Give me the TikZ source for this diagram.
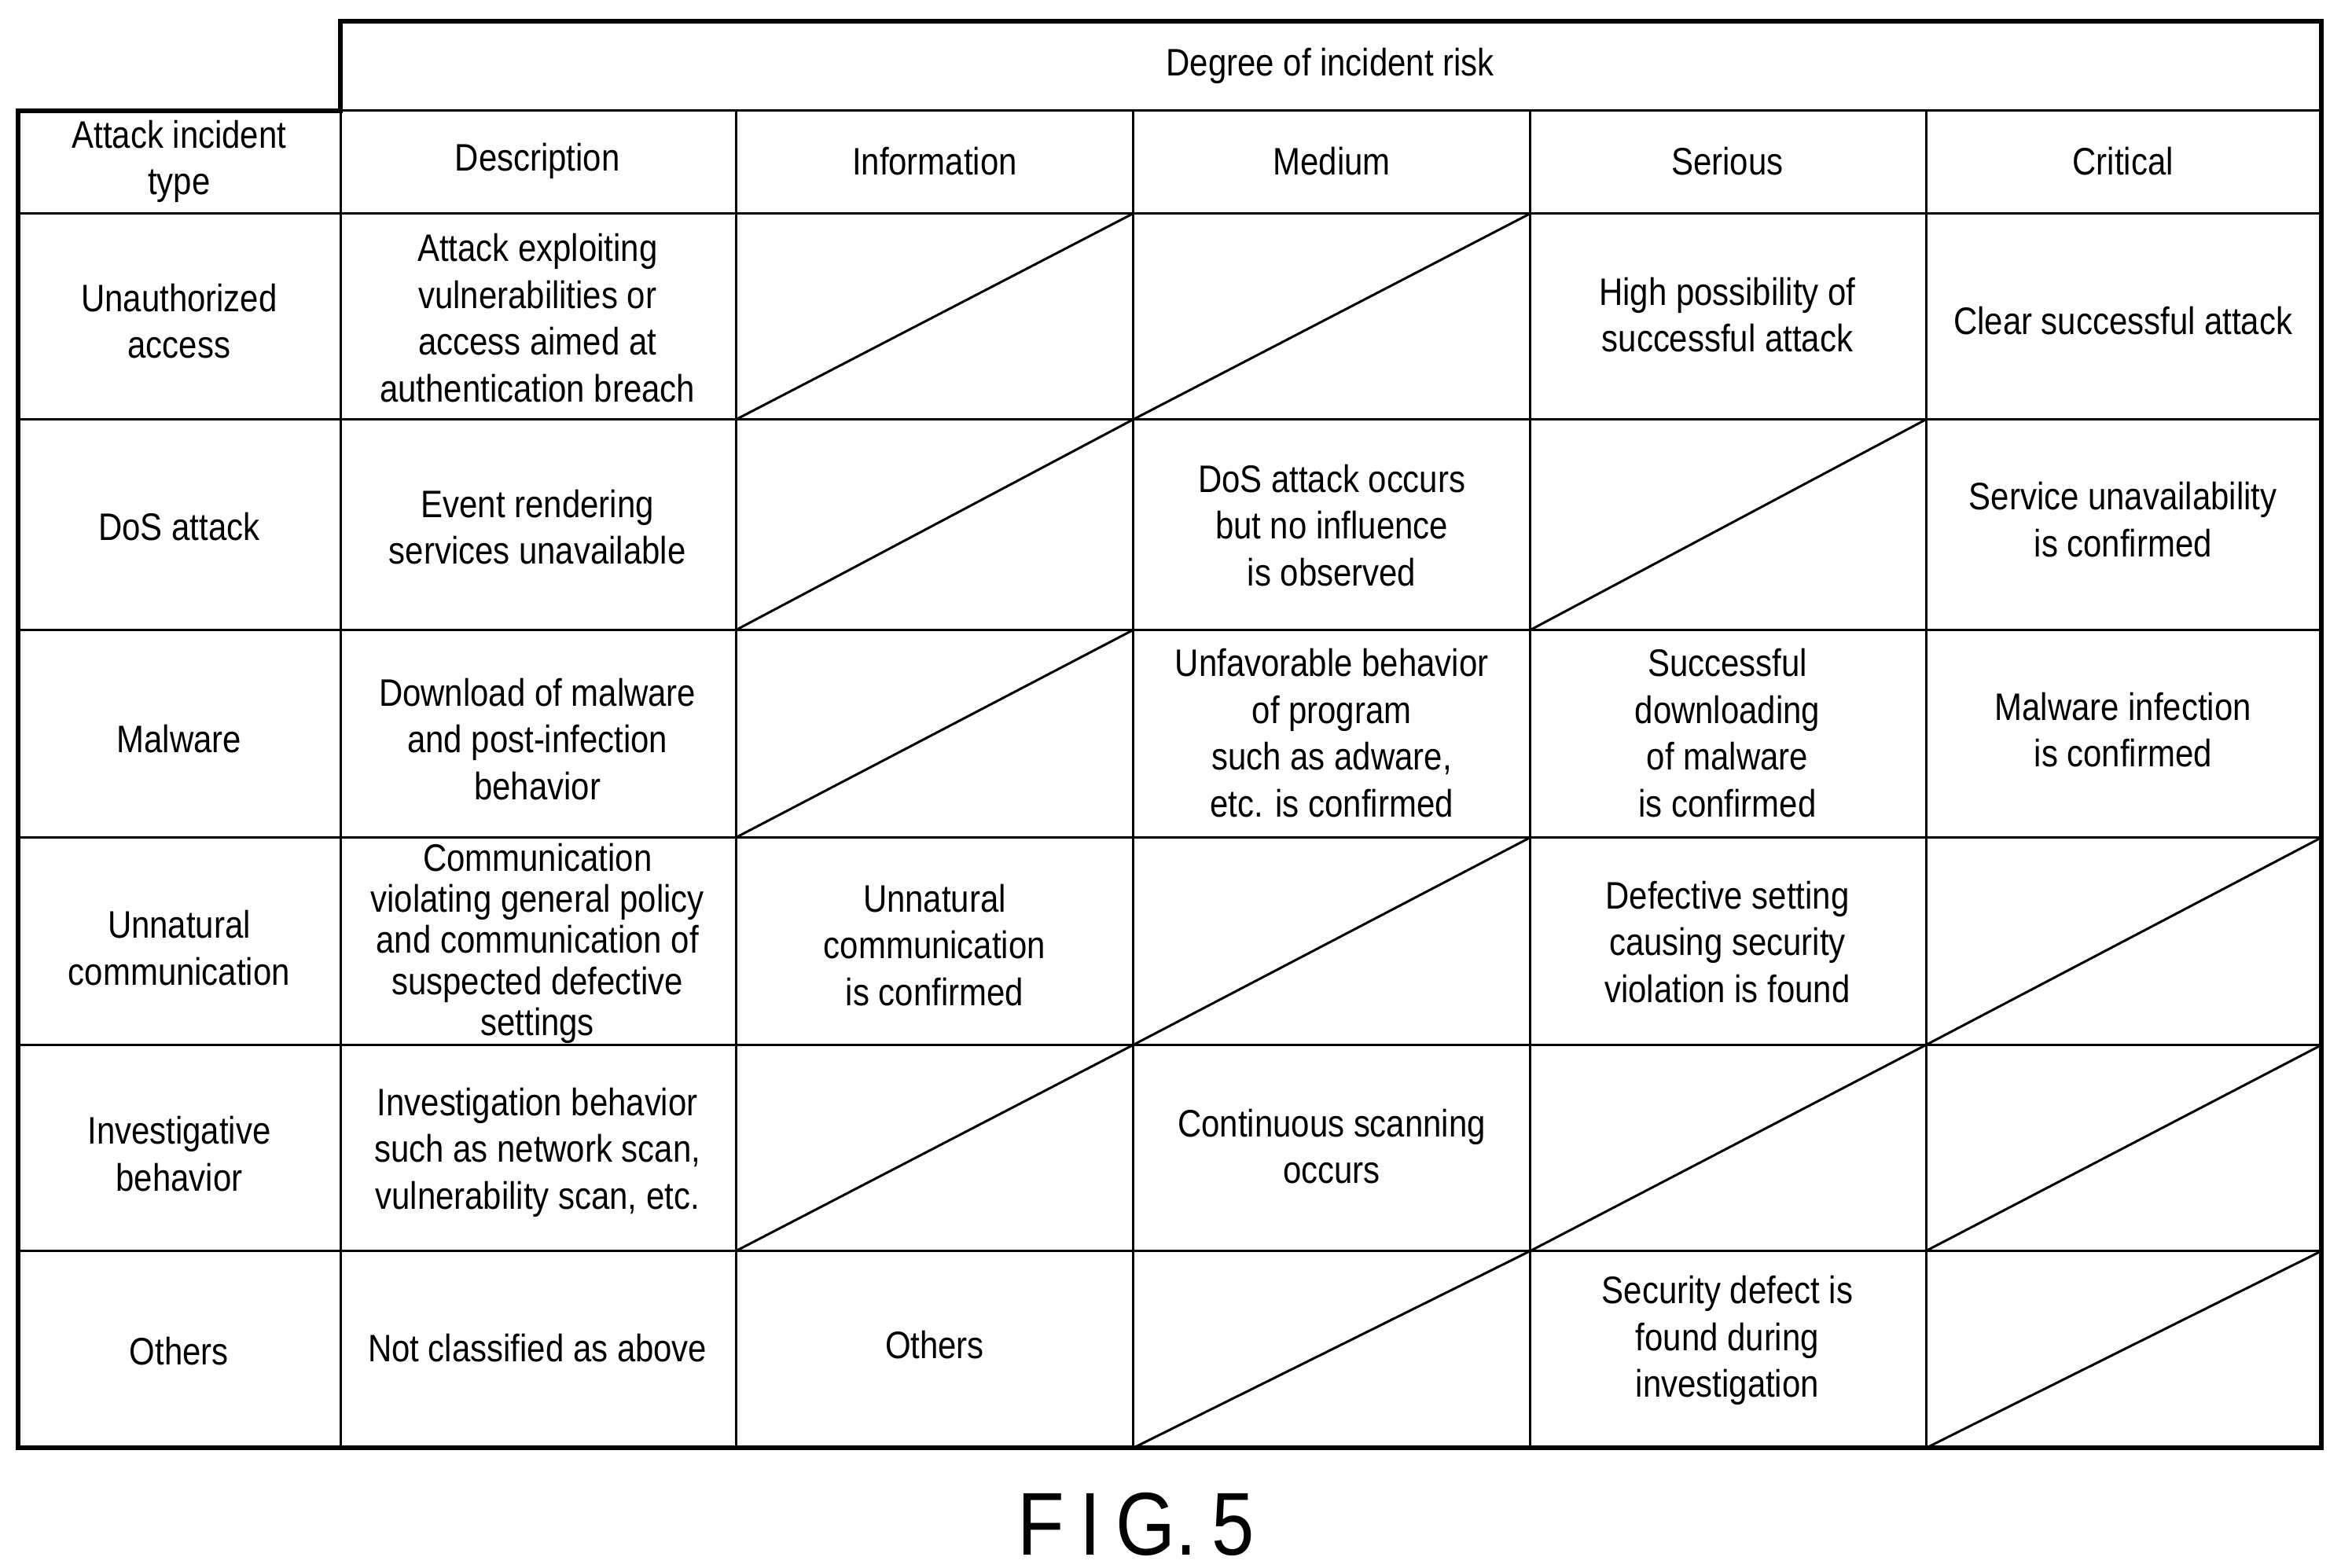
\documentclass[tikz,border=0pt]{standalone}
\usepackage{fontspec}
\setmainfont{Liberation Sans}[FakeStretch=0.86]
\begin{document}
\begin{tikzpicture}[x=0.01cm,y=-0.01cm,
  txt/.style={align=center,font=\fontsize{7.3pt}{8.9pt}\selectfont,inner sep=0pt},
  grid/.style={line width=0.45pt},
  diag/.style={line width=0.45pt}]
\useasboundingbox (0,0) rectangle (1568,1050);
% grid
\def\xs{12,228,493,759,1025,1290,1555}
\draw[line width=0.9pt] (228,74) -- (228,14) -- (1555,14) -- (1555,970) -- (12,970) -- (12,74) -- cycle;
\draw[grid] (228,74) -- (1555,74);
\foreach \y in {143,281,422,561,700,838} \draw[grid] (12,\y) -- (1555,\y);
\foreach \x in {228,493,759,1025,1290} \draw[grid] (\x,74) -- (\x,970);
% diagonals: column left x, row top/bottom
\foreach \xa/\xb/\ya/\yb in {493/759/143/281, 759/1025/143/281,
  493/759/281/422, 1025/1290/281/422,
  493/759/422/561,
  759/1025/561/700, 1290/1555/561/700,
  493/759/700/838, 1025/1290/700/838, 1290/1555/700/838,
  759/1025/838/970, 1290/1555/838/970}
  \draw[diag] (\xa,\yb) -- (\xb,\ya);
% headers
\node[txt] (h0) at (891,44) {Degree of incident risk};
\node[txt] (h1) at (120,108) {Attack incident\\type};
\node[txt] (h2) at (360,108) {Description};
\node[txt] (h3) at (626,108) {Information};
\node[txt] (h4) at (892,108) {Medium};
\node[txt] (h5) at (1157,108) {Serious};
\node[txt] (h6) at (1422,108) {Critical};
% row labels
\node[txt] (r1) at (120,215) {Unauthorized\\access};
\node[txt] (r2) at (120,353) {DoS attack};
\node[txt] (r3) at (120,495) {Malware};
\node[txt] (r4) at (120,635) {Unnatural\\communication};
\node[txt] (r5) at (120,773) {Investigative\\behavior};
\node[txt] (r6) at (120,905) {Others};
% row 1
\node[txt] (d1) at (360,213) {Attack exploiting\\vulnerabilities or\\access aimed at\\authentication breach};
\node[txt] (s1) at (1157,211) {High possibility of\\successful attack};
\node[txt] (c1) at (1422,215) {Clear successful attack};
% row 2
\node[txt] (d2) at (360,353) {Event rendering\\services unavailable};
\node[txt] (m2) at (892,352) {DoS attack occurs\\but no influence\\is observed};
\node[txt] (c2) at (1422,348) {Service unavailability\\is confirmed};
% row 3
\node[txt] (d3) at (360,495) {Download of malware\\and post-infection\\behavior};
\node[txt] (m3) at (892,491) {Unfavorable behavior\\of program\\such as adware,\\etc. is confirmed};
\node[txt] (s3) at (1157,491) {Successful\\downloading\\of malware\\is confirmed};
\node[txt] (c3) at (1422,489) {Malware infection\\is confirmed};
% row 4
\node[txt,font=\fontsize{7.3pt}{7.8pt}\selectfont] (d4) at (360,632) {Communication\\violating general policy\\and communication of\\suspected defective\\settings};
\node[txt] (i4) at (626,633) {Unnatural\\communication\\is confirmed};
\node[txt] (s4) at (1157,631) {Defective setting\\causing security\\violation is found};
% row 5
\node[txt] (d5) at (360,772) {Investigation behavior\\such as network scan,\\vulnerability scan, etc.};
\node[txt] (m5) at (892,768) {Continuous scanning\\occurs};
% row 6
\node[txt] (d6) at (360,903) {Not classified as above};
\node[txt] (i6) at (626,901) {Others};
\node[txt] (s6) at (1157,898) {Security defect is\\found during\\investigation};
% figure label
\node[inner sep=0pt,font=\fontsize{17pt}{20pt}\selectfont] (fig) at (761,1021) {F\,I\,G.\,5};
\end{tikzpicture}
\end{document}
